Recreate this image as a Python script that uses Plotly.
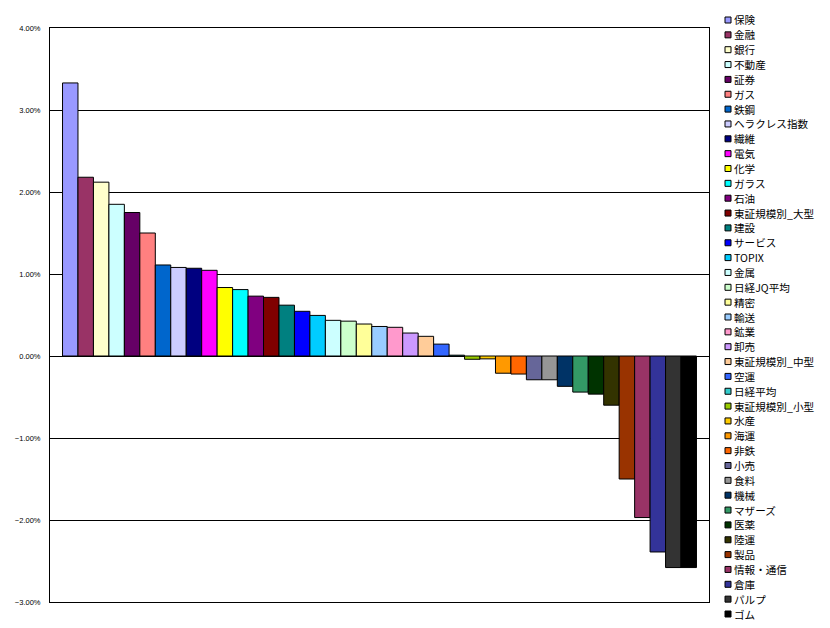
import plotly.graph_objects as go

names = ["保険", "金融", "銀行", "不動産", "証券", "ガス", "鉄鋼", "ヘラクレス指数", "繊維", "電気",
         "化学", "ガラス", "石油", "東証規模別_大型", "建設", "サービス", "TOPIX", "金属", "日経JQ平均", "精密",
         "輸送", "鉱業", "卸売", "東証規模別_中型", "空運", "日経平均", "東証規模別_小型", "水産", "海運", "非鉄",
         "小売", "食料", "機械", "マザーズ", "医薬", "陸運", "製品", "情報・通信", "倉庫", "パルプ", "ゴム"]

values_pct = [3.33, 2.18, 2.12, 1.85, 1.75, 1.50, 1.11, 1.08, 1.07, 1.045,
              0.835, 0.81, 0.73, 0.715, 0.62, 0.545, 0.495, 0.435, 0.425, 0.39,
              0.36, 0.35, 0.28, 0.24, 0.145, 0.01, -0.04, -0.035, -0.21, -0.22,
              -0.29, -0.29, -0.37, -0.44, -0.465, -0.60, -1.50, -1.97, -2.39, -2.58, -2.58]

colors = ["#9999FF", "#993366", "#FFFFCC", "#CCFFFF", "#660066", "#FF8080", "#0066CC", "#CCCCFF", "#000080", "#FF00FF",
          "#FFFF00", "#00FFFF", "#800080", "#800000", "#008080", "#0000FF", "#00CCFF", "#CCFFFF", "#CCFFCC", "#FFFF99",
          "#99CCFF", "#FF99CC", "#CC99FF", "#FFCC99", "#3366FF", "#33CCCC", "#99CC00", "#FFCC00", "#FF9900", "#FF6600",
          "#666699", "#969696", "#003366", "#339966", "#003300", "#333300", "#993300", "#993366", "#333399", "#333333", "#000000"]

OFF = 8  # page body margin
W, H = 830 - OFF, 628 - OFF
ML, MR, MT, MB = 50 - OFF, 121, 28 - OFF, 26
PW, PH = W - ML - MR, H - MT - MB
BOTTOM_ABS = 602  # absolute pixel of plot bottom

fig = go.Figure()
for n, v, c in zip(names, values_pct, colors):
    fig.add_trace(go.Bar(x=[""], y=[v / 100], name=n, marker=dict(color=c, line=dict(color="black", width=1)),
                         showlegend=False))

# manual legend (plotly's legend items cannot be this compact)
shapes = []
annotations = []
first_y, step = 20, 14.85
for i, (n, c) in enumerate(zip(names, colors)):
    yc = first_y + step * i
    yp = (BOTTOM_ABS - yc) / PH
    shapes.append(dict(type="rect", xref="paper", yref="paper",
                       x0=(725 - 50) / PW, x1=(731 - 50) / PW,
                       y0=yp - 3 / PH, y1=yp + 3 / PH,
                       fillcolor=c, line=dict(color="black", width=1)))
    annotations.append(dict(text=n, xref="paper", yref="paper", x=(732 - 50) / PW, y=yp,
                            xanchor="left", yanchor="middle", showarrow=False,
                            font=dict(family="Noto Sans CJK JP", size=10.6, color="black")))

fig.update_layout(
    width=W, height=H,
    margin=dict(l=ML, r=MR, t=MT, b=MB),
    paper_bgcolor="white", plot_bgcolor="white",
    barmode="group", bargap=0.038, bargroupgap=0,
    shapes=shapes, annotations=annotations,
    xaxis=dict(showticklabels=False, showgrid=False, showline=True, mirror=True, automargin=False,
               linecolor="black", linewidth=1, ticks="", range=[-0.5, 0.5]),
    yaxis=dict(range=[-0.03, 0.04], dtick=0.01, tickformat=".2%", showgrid=True, automargin=False,
               gridcolor="black", gridwidth=1, zeroline=True, zerolinecolor="black", zerolinewidth=1,
               showline=True, mirror=True, linecolor="black", linewidth=1, ticks="",
               ticklabelstandoff=7,
               tickfont=dict(family="Liberation Sans", size=7.5, color="black")),
    font=dict(family="Noto Sans CJK JP"),
)

fig.write_html("out.html")
